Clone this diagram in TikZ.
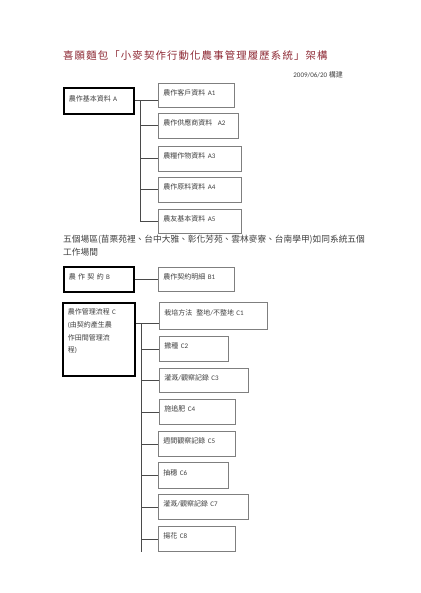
\documentclass[tikz,border=0pt]{standalone}
\usepackage{fontspec}
\setmainfont{Carlito}
\newfontfamily\cjk{Noto Sans CJK TC}
\newfontfamily\titlefont[LetterSpace=11]{Noto Sans CJK TC}
\newcommand\zh[1]{{\cjk #1}}
\definecolor{titlered}{HTML}{8E2A35}
\definecolor{txt}{HTML}{404040}
\definecolor{boxgray}{HTML}{7F7F7F}
\definecolor{linegray}{HTML}{4A4A4A}
\tikzset{
  childbox/.style={draw=boxgray, line width=0.9pt, anchor=north west, inner xsep=5pt, inner ysep=0pt,
    align=left, text=txt, text depth=6pt, font=\fontsize{7}{9}\selectfont},
  parentbox/.style={childbox, draw=black, line width=1.6pt, text depth=4.5pt},
  link/.style={draw=linegray, line width=0.9pt},
}
\begin{document}
\begin{tikzpicture}[x=1pt,y=-1pt]
\useasboundingbox[fill=white] (0,0) rectangle (420,593);

% title and date
\node[anchor=west, inner sep=0, text=titlered, font=\titlefont\fontsize{10.4}{12}\selectfont] (title) at (63,56)
  {喜願麵包「小麥契作行動化農事管理履歷系統」架構};
\node[anchor=east, inner sep=0, text=txt, font=\fontsize{7}{9}\selectfont] (date) at (343,75)
  {2009/06/20 \zh{構建}};

% group A
\node[parentbox, text width=60pt, minimum height=26pt] (A) at (63,87) {\zh{農作基本資料} A};
\node[childbox, text width=66pt, minimum height=24pt] (A1) at (158,83) {\zh{農作客戶資料} A1};
\node[childbox, text width=70pt, minimum height=25pt] (A2) at (158,113) {\zh{農作供應商資料}\hspace{3pt} A2};
\node[childbox, text width=73pt, minimum height=25pt] (A3) at (158,146) {\zh{農糧作物資料} A3};
\node[childbox, text width=73pt, minimum height=25pt] (A4) at (158,177) {\zh{農作原料資料} A4};
\node[childbox, text width=73pt, minimum height=24pt] (A5) at (158,209) {\zh{農友基本資料} A5};
\coordinate (Abus) at (140,0);
\draw[link] (A.east) -- (A.east -| A1.west);
\draw[link] (Abus |- A.east) -- (Abus |- A5.west);
\foreach \n in {A2,A3,A4,A5} \draw[link] (Abus |- \n.west) -- (\n.west);

% paragraph
\node[anchor=north west, inner sep=0, align=left, text=txt, font=\cjk\fontsize{8.7}{13}\selectfont] (para) at (63,235)
  {五個場區(苗栗苑裡、台中大雅、彰化芳苑、雲林麥寮、台南學甲)如同系統五個\\工作場間};

% group B
\node[parentbox, text width=60pt, minimum height=25pt] (B) at (63,266) {\zh{農\ 作\ 契\ 約} B};
\node[childbox, text width=66pt, minimum height=24pt] (B1) at (158,267) {\zh{農作契約明細} B1};
\draw[link] (B.east) -- (B.east -| B1.west);

% group C
\node[parentbox, text width=62pt, inner ysep=0pt, text depth=0pt] (C) at (62,302)
  {\parbox[b][73pt][t]{62pt}{\vspace{6pt}\fontsize{7}{12.7}\selectfont
   \zh{農作管理流程} C\\(\zh{由契約產生農}\\\zh{作田間管理流}\\\zh{程})}};
\node[childbox, text width=98pt, minimum height=27pt] (C1) at (159,302) {\zh{栽培方法}\hspace{4pt}\zh{整地}/\zh{不整地} C1};
\node[childbox, text width=59pt, minimum height=25pt] (C2) at (159,336) {\zh{撒種} C2};
\node[childbox, text width=79pt, minimum height=24pt] (C3) at (159,368) {\zh{灌溉}/\zh{觀察記錄} C3};
\node[childbox, text width=66pt, minimum height=25pt] (C4) at (159,399) {\zh{施追肥} C4};
\node[childbox, text width=67pt, minimum height=25pt] (C5) at (158,431) {\zh{週間觀察記錄} C5};
\node[childbox, text width=60pt, minimum height=26pt] (C6) at (158,462) {\zh{抽穗} C6};
\node[childbox, text width=80pt, minimum height=25pt] (C7) at (158,494) {\zh{灌溉}/\zh{觀察記錄} C7};
\node[childbox, text width=67pt, minimum height=25pt] (C8) at (158,526) {\zh{揚花} C8};
\coordinate (Cout) at ([yshift=-21pt]C.north east);
\coordinate (Cbus) at (141,0);
\coordinate (Cend) at (Cbus |- C8.south);
\draw[link] (Cout) -- (Cout -| C1.west);
\draw[link] (Cbus |- Cout) -- (Cend);
\foreach \n in {C2,C3,C4,C5,C6,C7,C8} \draw[link] (Cbus |- \n.west) -- (\n.west);
\end{tikzpicture}
\end{document}
